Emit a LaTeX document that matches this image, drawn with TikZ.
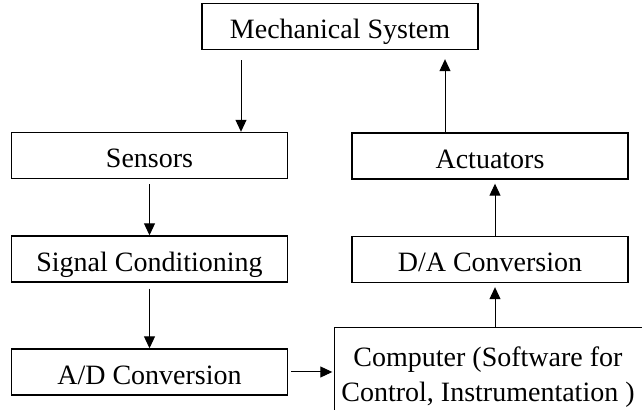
\documentclass[tikz,border=0pt]{standalone}
\usepackage{fontspec}
\setmainfont{Liberation Serif}
\usetikzlibrary{arrows.meta}

\tikzset{
  block/.style={draw, line width=0.7pt, minimum width=138pt, minimum height=23pt,
    inner sep=0pt, text height=12.5pt, text depth=0pt, font=\fontsize{14}{17.5}\selectfont},
  flow/.style={line width=0.5pt, -{Triangle[length=6pt,width=5.5pt]}}
}

\begin{document}
\begin{tikzpicture}[x=0.5pt,y=-0.5pt]
\useasboundingbox (0,0) rectangle (642,410);
\clip (0,0) rectangle (642,410);

% left column goes down, right column goes up
\node[block] (mech) at (340,26.5) {Mechanical System};
\node[block] (sens) at (149.5,155.5) {Sensors};
\node[block] (sig) at (149.5,259) {Signal Conditioning};
\node[block] (ad) at (149.5,372) {A/D Conversion};
\node[block] (act) at (490,156) {Actuators};
\node[block] (da) at (490,259.5) {D/A Conversion};
\node[block, draw=none, text height=, text depth=, minimum width=153pt, minimum height=47pt,
  align=center] (comp) at (488,377) {Computer (Software for\\Control, Instrumentation )};
\draw[line width=0.7pt] ([yshift=-10pt]comp.south west) -- ([yshift=1pt]comp.north west)
  -- ([xshift=4pt,yshift=1pt]comp.north east);

\coordinate (drop) at (241,0);
\coordinate (up) at (495,0);
\coordinate (back) at (445,0);

\draw[flow, shorten <=5pt] (mech.south -| drop) -- (sens.north -| drop);
\draw[flow, shorten <=2.5pt] (sens.south) -- (sig.north);
\draw[flow, shorten <=3pt] (sig.south) -- (ad.north);
\draw[flow, shorten <=1.5pt, shorten >=1pt] (ad.east) -- (ad.east -| comp.west);
\draw[flow, shorten >=2pt] ([yshift=1pt]comp.north -| up) -- (da.south -| up);
\draw[flow, shorten >=2pt] (da.north -| up) -- (act.south -| up);
\draw[flow, shorten >=4.5pt] (act.north -| back) -- (mech.south -| back);
\end{tikzpicture}
\end{document}
